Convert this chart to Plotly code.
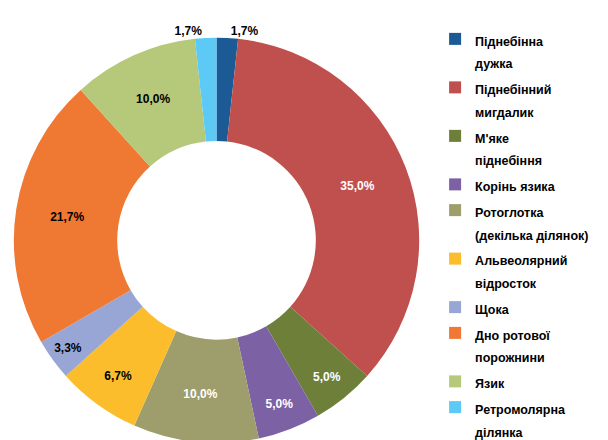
import plotly.graph_objects as go

names = ["Піднебінна<br>дужка", "Піднебінний<br>мигдалик", "М'яке<br>піднебіння",
         "Корінь язика", "Ротоглотка<br>(декілька ділянок)", "Альвеолярний<br>відросток",
         "Щока", "Дно ротової<br>порожнини", "Язик", "Ретромолярна<br>ділянка"]
values = [1.7, 35.0, 5.0, 5.0, 10.0, 6.7, 3.3, 21.7, 10.0, 1.7]
colors = ["#1c5a96", "#c0504d", "#6e7f3a", "#7c62a5", "#9e9d6c", "#fbbd2c",
          "#98a6d6", "#ef7832", "#b6c97b", "#5ccaf4"]
text_colors = ["black", "white", "white", "white", "white", "black",
               "black", "black", "black", "black"]
positions = ["outside", "inside", "inside", "inside", "inside", "inside",
             "inside", "inside", "inside", "outside"]
texts = [f"{v:.1f}%".replace(".", ",") for v in values]
labels = [f"<span style='font-size:12.5px'>{n}</span>" for n in names]

FONT = "Liberation Sans, Arial, sans-serif"

fig = go.Figure(go.Pie(
    labels=labels, values=values, text=texts, texttemplate="%{text}",
    sort=False, direction="clockwise", rotation=0, hole=0.49,
    marker=dict(colors=colors, line=dict(width=0)),
    textposition=positions, insidetextorientation="horizontal",
    textfont=dict(color=text_colors, size=12, family=FONT, weight="bold"),
    outsidetextfont=dict(color="black", size=12, family=FONT, weight="bold"),
    domain=dict(x=[0, 0.675], y=[0, 1-30/440]),
    hoverinfo="label+percent",
))
fig.update_layout(
    width=608, height=440, margin=dict(l=0, r=0, t=0, b=0),
    paper_bgcolor="white", plot_bgcolor="white",
    showlegend=True,
    legend=dict(x=0.700, y=1-20/440, xanchor="left", yanchor="top",
                valign="top", font=dict(family=FONT, size=17.5, color="black", weight="bold"),
                itemwidth=30),
)
fig.write_html("out.html")
